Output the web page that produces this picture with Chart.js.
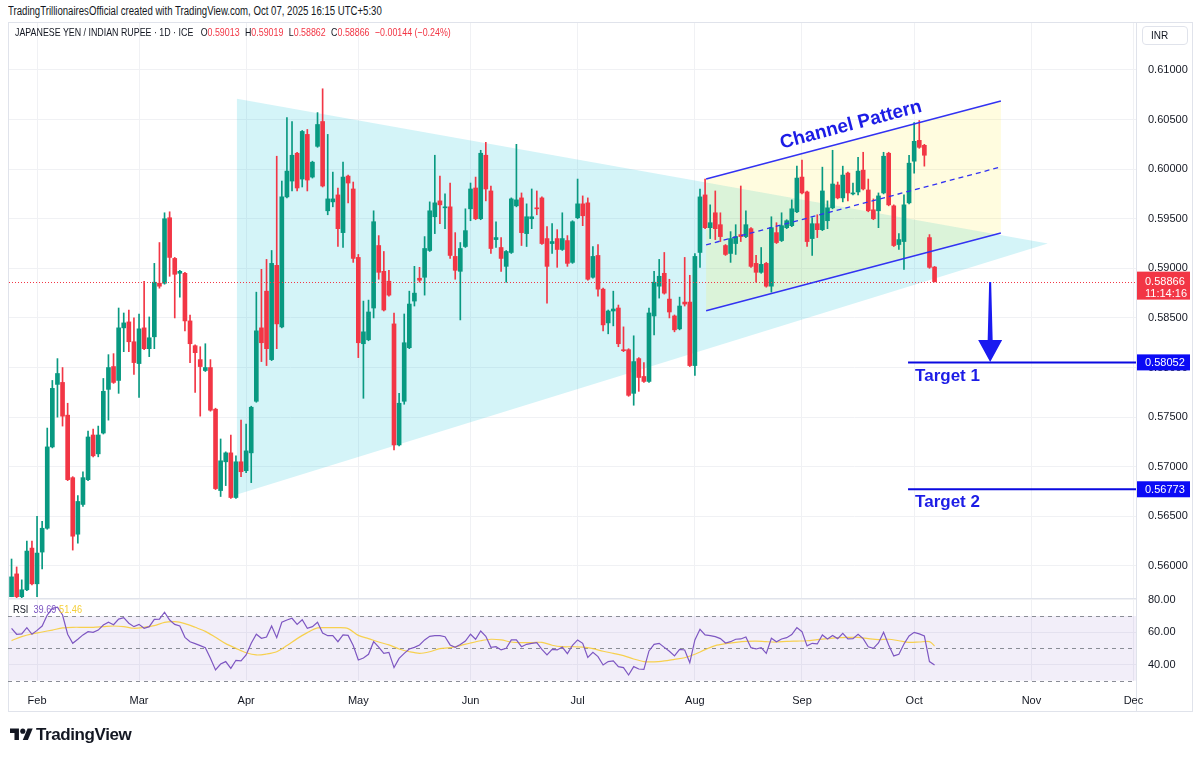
<!DOCTYPE html>
<html>
<head>
<meta charset="utf-8">
<script src="https://cdn.jsdelivr.net/npm/chart.js@4.4.0/dist/chart.umd.min.js"></script>
<style>
	html, body { margin: 0; padding: 0; background: #fff; }
	body { width: 1200px; height: 758px; position: relative; overflow: hidden; font-family: "Liberation Sans", Arial, sans-serif; color: #131722; }
	canvas { position: absolute; left: 0; top: 0; }
	#caption { position: absolute; left: 8px; top: 4px; font-size: 12px; transform: scaleX(0.8); transform-origin: 0 0; white-space: nowrap; }
	#frame { position: absolute; left: 8px; top: 22px; width: 1185px; height: 690px; border: 1px solid #e0e3eb; box-sizing: border-box; }
	#legend { position: absolute; left: 15px; top: 26px; font-size: 11.5px; white-space: nowrap; z-index: 3; transform: scaleX(0.77); transform-origin: 0 0; }
	#legend .v { color: #F23645; margin-right: 7px; }
	#inr { position: absolute; left: 1142px; top: 26px; width: 46px; height: 19px; border: 1px solid #e0e3eb; border-radius: 4px; box-sizing: border-box; font-size: 10px; line-height: 17px; padding-left: 8px; z-index: 3; }
	#rsiLegend { position: absolute; left: 13px; top: 603px; font-size: 11.5px; z-index: 3; white-space: nowrap; transform: scaleX(0.8); transform-origin: 0 0; }
	#logo { position: absolute; left: 10px; top: 725px; font-size: 17px; font-weight: bold; letter-spacing: -0.4px; display: flex; align-items: center; }
	#logo svg { margin-right: 3px; }
</style>
</head>
<body>
<div id="caption">TradingTrillionairesOfficial created with TradingView.com, Oct 07, 2025 16:15 UTC+5:30</div>
<div id="frame"></div>
<canvas id="priceCanvas" width="1200" height="758"></canvas>
<canvas id="rsiCanvas" width="1200" height="758"></canvas>
<div id="legend">JAPANESE YEN / INDIAN RUPEE · 1D · ICE&nbsp;&nbsp;&nbsp;O<span class="v">0.59013</span>H<span class="v">0.59019</span>L<span class="v">0.58862</span>C<span class="v">0.58866</span><span class="v">−0.00144 (−0.24%)</span></div>
<div id="inr">INR</div>
<div id="rsiLegend">RSI&nbsp; <span style="color:#7E57C2">39.69</span> <span style="color:#F5CF3A">51.46</span></div>
<div id="logo"><svg width="23" height="18" viewBox="0 0 36 28"><path d="M14 22H7V11H0V4h14v18z" fill="#131722"/><circle cx="20" cy="8" r="4" fill="#131722"/><path d="M28 22h-8l7.5-18h8L28 22z" fill="#131722"/></svg>TradingView</div>

<script>
// daily candles, Jan 27 -> Oct 07 2025 : [open, high, low, close]
const ohlc = [
	[0.5569,0.5607,0.5569,0.5589],[0.5592,0.5599,0.5568,0.5569],[0.5569,0.5586,0.5568,0.5576],[0.5576,0.5625,0.5575,0.5615],[0.5618,0.5625,0.5581,0.5582],
	[0.5582,0.5650,0.5569,0.5613],[0.5614,0.5645,0.5597,0.5638],[0.5638,0.5739,0.5637,0.5720],[0.5720,0.5787,0.5719,0.5779],[0.5783,0.5809,0.5750,0.5794],
	[0.5785,0.5800,0.5741,0.5751],[0.5752,0.5764,0.5686,0.5687],[0.5689,0.5690,0.5616,0.5630],[0.5632,0.5671,0.5623,0.5665],[0.5662,0.5695,0.5660,0.5689],
	[0.5687,0.5736,0.5686,0.5730],[0.5732,0.5738,0.5710,0.5711],[0.5713,0.5741,0.5710,0.5732],[0.5734,0.5789,0.5733,0.5776],[0.5778,0.5813,0.5747,0.5800],
	[0.5801,0.5814,0.5784,0.5785],[0.5787,0.5860,0.5774,0.5840],[0.5840,0.5855,0.5816,0.5845],[0.5846,0.5858,0.5816,0.5826],[0.5826,0.5850,0.5793,0.5805],
	[0.5804,0.5854,0.5770,0.5839],[0.5840,0.5887,0.5818,0.5819],[0.5819,0.5851,0.5811,0.5830],[0.5831,0.5905,0.5819,0.5886],[0.5885,0.5926,0.5880,0.5882],
	[0.5885,0.5956,0.5884,0.5950],[0.5951,0.5957,0.5892,0.5911],[0.5910,0.5911,0.5850,0.5894],[0.5895,0.5898,0.5871,0.5897],[0.5895,0.5896,0.5837,0.5847],
	[0.5847,0.5853,0.5805,0.5824],[0.5822,0.5823,0.5775,0.5815],[0.5808,0.5821,0.5751,0.5801],[0.5797,0.5824,0.5796,0.5800],[0.5800,0.5808,0.5756,0.5757],
	[0.5758,0.5759,0.5677,0.5678],[0.5676,0.5728,0.5670,0.5706],[0.5705,0.5715,0.5681,0.5714],[0.5714,0.5732,0.5668,0.5669],[0.5669,0.5711,0.5668,0.5705],
	[0.5705,0.5747,0.5690,0.5695],[0.5696,0.5743,0.5694,0.5716],[0.5714,0.5761,0.5684,0.5760],[0.5766,0.5876,0.5765,0.5837],[0.5840,0.5899,0.5806,0.5825],
	[0.5877,0.5909,0.5802,0.5819],[0.5808,0.5918,0.5807,0.5905],[0.5903,0.6013,0.5819,0.5844],[0.5841,0.5988,0.5840,0.5972],[0.5972,0.6052,0.5971,0.5998],
	[0.5988,0.6048,0.5978,0.6014],[0.6016,0.6017,0.5978,0.5981],[0.5990,0.6039,0.5982,0.6038],[0.6035,0.6040,0.5978,0.5989],[0.5992,0.6008,0.5991,0.6007],
	[0.6023,0.6057,0.6022,0.6045],[0.6048,0.6081,0.5982,0.5983],[0.5958,0.6035,0.5954,0.5970],[0.5967,0.5997,0.5962,0.5970],[0.5974,0.5981,0.5922,0.5940],
	[0.5936,0.6007,0.5921,0.5992],[0.5993,0.5994,0.5966,0.5986],[0.5980,0.5987,0.5906,0.5910],[0.5911,0.5914,0.5810,0.5825],[0.5824,0.5867,0.5769,0.5836],
	[0.5828,0.5868,0.5827,0.5856],[0.5860,0.5958,0.5850,0.5947],[0.5923,0.5933,0.5889,0.5896],[0.5897,0.5917,0.5857,0.5858],[0.5887,0.5898,0.5872,0.5873],
	[0.5844,0.5855,0.5717,0.5722],[0.5722,0.5774,0.5721,0.5764],[0.5766,0.5854,0.5763,0.5825],[0.5820,0.5877,0.5819,0.5864],[0.5867,0.5902,0.5862,0.5875],
	[0.5890,0.5901,0.5886,0.5888],[0.5891,0.5932,0.5873,0.5920],[0.5918,0.5967,0.5917,0.5958],[0.5952,0.6014,0.5935,0.5966],[0.5968,0.5993,0.5945,0.5964],
	[0.5961,0.5975,0.5940,0.5962],[0.5962,0.5986,0.5910,0.5913],[0.5912,0.5936,0.5889,0.5898],[0.5897,0.5926,0.5848,0.5920],[0.5922,0.5960,0.5921,0.5938],
	[0.5960,0.5986,0.5948,0.5980],[0.5981,0.5992,0.5949,0.5950],[0.5950,0.6019,0.5949,0.6016],[0.6014,0.6027,0.5968,0.5980],[0.5978,0.5983,0.5915,0.5920],
	[0.5929,0.5947,0.5921,0.5931],[0.5921,0.5931,0.5897,0.5910],[0.5902,0.5918,0.5886,0.5917],[0.5916,0.5971,0.5915,0.5970],[0.5963,0.6025,0.5962,0.5969],
	[0.5971,0.5976,0.5923,0.5936],[0.5935,0.5965,0.5922,0.5952],[0.5950,0.5980,0.5940,0.5952],[0.5961,0.5978,0.5954,0.5960],[0.5971,0.5972,0.5924,0.5925],
	[0.5930,0.5942,0.5865,0.5902],[0.5925,0.5945,0.5915,0.5927],[0.5930,0.5939,0.5901,0.5919],[0.5919,0.5956,0.5918,0.5930],[0.5928,0.5933,0.5902,0.5905],
	[0.5906,0.5948,0.5905,0.5947],[0.5951,0.5990,0.5950,0.5965],[0.5965,0.5973,0.5943,0.5953],[0.5966,0.5971,0.5888,0.5889],[0.5891,0.5922,0.5890,0.5912],
	[0.5913,0.5924,0.5872,0.5879],[0.5879,0.5880,0.5837,0.5843],[0.5845,0.5858,0.5834,0.5857],[0.5857,0.5877,0.5842,0.5859],[0.5860,0.5863,0.5821,0.5824],
	[0.5818,0.5841,0.5816,0.5817],[0.5818,0.5819,0.5771,0.5772],[0.5774,0.5832,0.5762,0.5806],[0.5809,0.5810,0.5776,0.5790],[0.5791,0.5805,0.5785,0.5786],
	[0.5786,0.5860,0.5785,0.5855],[0.5852,0.5897,0.5833,0.5886],[0.5882,0.5909,0.5870,0.5892],[0.5895,0.5916,0.5874,0.5875],[0.5869,0.5889,0.5850,0.5856],
	[0.5852,0.5853,0.5836,0.5838],[0.5839,0.5871,0.5838,0.5862],[0.5866,0.5911,0.5862,0.5864],[0.5866,0.5893,0.5801,0.5802],[0.5802,0.5915,0.5792,0.5912],
	[0.5916,0.5980,0.5901,0.5972],[0.5974,0.5990,0.5940,0.5941],[0.5941,0.5964,0.5930,0.5946],[0.5956,0.5978,0.5929,0.5940],[0.5944,0.5956,0.5927,0.5932],
	[0.5923,0.5924,0.5913,0.5914],[0.5915,0.5937,0.5906,0.5930],[0.5925,0.5944,0.5914,0.5932],[0.5934,0.5983,0.5927,0.5932],[0.5932,0.5958,0.5931,0.5944],
	[0.5940,0.5941,0.5901,0.5902],[0.5905,0.5913,0.5886,0.5896],[0.5896,0.5921,0.5895,0.5904],[0.5905,0.5906,0.5881,0.5882],[0.5882,0.5952,0.5876,0.5941],
	[0.5936,0.5946,0.5925,0.5926],[0.5928,0.5956,0.5927,0.5943],[0.5941,0.5949,0.5940,0.5948],[0.5943,0.5969,0.5942,0.5960],[0.5957,0.6003,0.5956,0.5991],
	[0.5992,0.6009,0.5975,0.5976],[0.5977,0.5978,0.5922,0.5927],[0.5930,0.5951,0.5913,0.5945],[0.5945,0.5954,0.5931,0.5939],[0.5939,0.6002,0.5938,0.5978],
	[0.5948,0.5968,0.5940,0.5961],[0.5961,0.6019,0.5960,0.5985],[0.5984,0.5987,0.5970,0.5971],[0.5971,0.6003,0.5967,0.5994],[0.5996,0.5997,0.5968,0.5976],
	[0.5975,0.5986,0.5974,0.5976],[0.5977,0.6012,0.5974,0.5998],[0.5999,0.6017,0.5979,0.5980],[0.5979,0.5990,0.5957,0.5958],[0.5959,0.5970,0.5949,0.5950],
	[0.5958,0.5976,0.5941,0.5973],[0.5976,0.6017,0.5975,0.6013],[0.6016,0.6017,0.5963,0.5964],[0.5963,0.5964,0.5922,0.5923],[0.5924,0.5935,0.5919,0.5929],
	[0.5927,0.5974,0.5899,0.5964],[0.5966,0.6014,0.5965,0.6006],[0.6008,0.6047,0.5996,0.6028],[0.6029,0.6049,0.6021,0.6022],[0.6024,0.6025,0.6003,0.6014],
	[0.5931,0.5934,0.5900,0.5901],[0.59013,0.59019,0.58862,0.58866]
];

// RSI(14), one value per candle
const rsiValues = [
	62.4,58.7,58.9,62.8,58.7,61.1,63.8,70.6,74.7,75.4,70.6,58.7,53.1,55.6,58.3,60.3,59.9,61.3,64.4,66.1,
	64.6,68.1,69.0,65.5,63.4,64.8,62.4,63.4,67.9,68.1,72.3,67.5,64.8,63.8,56.8,54.1,52.9,51.7,50.4,43.8,
	36.6,40.3,41.8,37.6,42.6,42.2,45.9,53.1,58.7,56.2,57.0,63.8,56.6,66.1,67.5,68.6,64.8,67.7,62.4,63.4,
	66.1,59.5,57.8,57.8,54.1,58.3,58.0,51.7,42.8,44.0,46.3,54.1,50.8,46.9,47.5,38.1,43.8,46.9,49.6,50.6,
	52.1,55.2,57.4,57.8,57.8,57.2,52.1,50.6,52.3,54.5,58.7,55.6,60.7,57.4,50.6,51.0,49.0,50.0,55.2,55.2,
	51.0,52.5,53.1,53.5,49.4,45.9,49.4,49.0,50.8,46.7,51.9,55.2,53.1,44.4,47.5,44.9,39.7,41.8,42.2,38.7,
	38.1,33.5,38.7,37.2,37.0,48.4,52.5,53.1,50.6,48.2,45.3,49.4,49.0,41.1,55.2,61.8,58.3,57.8,57.2,56.0,
	53.3,54.1,55.6,55.8,57.0,50.4,49.6,50.4,46.9,56.2,54.1,55.8,56.6,58.5,62.8,60.3,51.5,53.1,52.7,58.3,
	55.8,58.0,56.0,59.3,55.8,56.0,58.7,56.0,51.0,50.0,53.3,59.9,52.1,45.3,46.3,52.7,57.6,59.9,58.9,57.6,
	41.8,39.69
];

// RSI-based moving average, read at [candle index, value]
const rsiMaPoints = [
	[0,54.8],[2,57.2],[4,58.9],[6,60.1],[8,61.3],[10,62.6],[12,63.0],[14,63.0],[16,63.0],[18,63.4],
	[20,63.8],[22,63.4],[24,62.4],[26,63.0],[28,64.0],[30,66.1],[32,66.5],[34,65.3],[36,63.0],[38,60.5],
	[40,56.8],[42,52.9],[44,50.0],[46,47.3],[48,45.9],[50,46.5],[52,47.9],[54,51.7],[56,56.0],[58,59.7],
	[60,62.6],[62,62.8],[64,62.8],[66,62.2],[68,58.0],[70,56.0],[72,53.9],[74,52.1],[76,49.6],[78,47.9],
	[80,46.9],[82,47.9],[84,49.8],[86,50.4],[88,51.7],[90,53.3],[92,54.7],[94,55.6],[96,55.2],[98,53.9],
	[100,53.5],[102,53.5],[104,53.7],[106,51.9],[108,51.0],[110,51.0],[112,50.8],[114,49.8],[116,48.2],[118,46.9],
	[120,45.5],[122,43.4],[124,41.8],[126,41.6],[128,42.2],[130,43.2],[132,44.2],[134,46.3],[136,49.2],[138,51.7],
	[140,52.9],[142,53.7],[144,54.3],[146,54.5],[148,54.1],[150,53.9],[152,54.3],[154,54.5],[156,54.7],[158,55.4],
	[160,56.0],[162,56.6],[164,56.8],[166,56.8],[168,56.0],[170,55.4],[172,55.6],[174,54.7],[176,53.7],[178,53.9],
	[180,54.1],[181,51.46]
];

const priceTicks = [0.560, 0.565, 0.570, 0.575, 0.580, 0.585, 0.590, 0.595, 0.600, 0.605, 0.610];
const rsiTicks = [40, 60, 80];
const monthNames = ['Jan','Feb','Mar','Apr','May','Jun','Jul','Aug','Sep','Oct','Nov','Dec'];
const countdown = '11:14:16';

// weekday categories Jan 27 -> Dec 1 2025 (axis runs past the last candle)
const dates = [];
(function() {
	const d = new Date(Date.UTC(2025, 0, 27));
	while(dates.length < 221) {
		const wd = d.getUTCDay();
		if(wd != 0 && wd != 6) dates.push(d.toISOString().slice(0, 10));
		d.setUTCDate(d.getUTCDate() + 1);
	}
})();
const monthStarts = dates.map((s, i) => i > 0 && s.slice(5, 7) != dates[i-1].slice(5, 7) ? i : -1).filter(i => i >= 0);

// drawings on the chart, in (candle index, price)
const triangle = [[44.2, 0.6071], [44.2, 0.5672], [203.2, 0.5925]];
const channel = {
	upper: [[136.2, 0.59901], [194.0, 0.60687]],
	lower: [[136.2, 0.58573], [194.0, 0.59356]],
	mid: [[136.2, 0.59237], [194.0, 0.60022]]
};
const channelText = { i: 164.6, price: 0.60445, text: 'Channel Pattern' };
const arrow = { i: 191.9, from: 0.58862, head: 0.58278, to: 0.58056 };
const targets = [
	{ price: 0.58052, label: 'Target 1' },
	{ price: 0.56773, label: 'Target 2' }
];
const targetStart = 175.8;

const UP = '#089981', DOWN = '#F23645';
const BLUE = '#1c1ce6';
const gridColor = '#f0f1f4';
const candleColors = ohlc.map(r => r[3] >= r[0] ? UP : DOWN);

Chart.defaults.font.family = '"Liberation Sans", Arial, sans-serif';
Chart.defaults.font.size = 11;
Chart.defaults.color = '#131722';

//helper functions//
function monthTicks(scale) {
	scale.ticks = monthStarts.map(i => ({ value: i }));
}

function toPx(chart, i, v) {
	return [chart.scales.x.getPixelForValue(i), chart.scales.y.getPixelForValue(v)];
}

function fillPoly(chart, pts, color) {
	const ctx = chart.ctx;
	ctx.beginPath();
	pts.forEach((p, k) => {
		const [x, y] = toPx(chart, p[0], p[1]);
		if(k == 0) ctx.moveTo(x, y); else ctx.lineTo(x, y);
	});
	ctx.closePath();
	ctx.fillStyle = color;
	ctx.fill();
}

function strokeSeg(chart, seg, color, width, dash) {
	const ctx = chart.ctx;
	const [x1, y1] = toPx(chart, seg[0][0], seg[0][1]);
	const [x2, y2] = toPx(chart, seg[1][0], seg[1][1]);
	ctx.save();
	ctx.strokeStyle = color;
	ctx.lineWidth = width;
	ctx.setLineDash(dash || []);
	ctx.beginPath();
	ctx.moveTo(x1, y1);
	ctx.lineTo(x2, y2);
	ctx.stroke();
	ctx.restore();
}

const drawings = {
	id: 'drawings',
	beforeDatasetsDraw(chart) {
		const {ctx, chartArea: a} = chart;
		ctx.save();
		ctx.beginPath();
		ctx.rect(a.left, a.top, a.width, a.height);
		ctx.clip();
		fillPoly(chart, triangle, 'rgba(38,198,218,0.2)');
		fillPoly(chart, [channel.upper[0], channel.upper[1], channel.lower[1], channel.lower[0]], 'rgba(255,235,59,0.16)');
		ctx.restore();
	},
	afterDatasetsDraw(chart) {
		const {ctx, chartArea: a, scales: {y}} = chart;
		// last price line
		const last = ohlc[ohlc.length - 1][3];
		const ly = Math.round(y.getPixelForValue(last)) + 0.5;
		ctx.save();
		ctx.strokeStyle = DOWN;
		ctx.lineWidth = 1;
		ctx.setLineDash([1, 2]);
		ctx.beginPath();
		ctx.moveTo(a.left, ly);
		ctx.lineTo(a.right, ly);
		ctx.stroke();
		ctx.restore();

		// channel
		strokeSeg(chart, channel.upper, '#3232f2', 1.4);
		strokeSeg(chart, channel.lower, '#3232f2', 1.4);
		strokeSeg(chart, channel.mid, '#3232f2', 1.3, [5, 4]);
		const [ux1, uy1] = toPx(chart, channel.upper[0][0], channel.upper[0][1]);
		const [ux2, uy2] = toPx(chart, channel.upper[1][0], channel.upper[1][1]);
		const [tx, ty] = toPx(chart, channelText.i, channelText.price);
		ctx.save();
		ctx.translate(tx, ty);
		ctx.rotate(Math.atan2(uy2 - uy1, ux2 - ux1));
		ctx.fillStyle = BLUE;
		ctx.font = 'bold 19px "Liberation Sans", Arial, sans-serif';
		ctx.textAlign = 'center';
		ctx.textBaseline = 'middle';
		ctx.fillText(channelText.text, 0, 0);
		ctx.restore();

		// arrow
		const [ax, ay1] = toPx(chart, arrow.i, arrow.from);
		const ay2 = y.getPixelForValue(arrow.head);
		const ay3 = y.getPixelForValue(arrow.to);
		ctx.save();
		ctx.fillStyle = '#1a1af0';
		ctx.beginPath();
		ctx.moveTo(ax - 1, ay1);
		ctx.lineTo(ax + 1, ay1);
		ctx.lineTo(ax + 2.5, ay2);
		ctx.lineTo(ax + 12, ay2);
		ctx.lineTo(ax, ay3);
		ctx.lineTo(ax - 12, ay2);
		ctx.lineTo(ax - 2.5, ay2);
		ctx.closePath();
		ctx.fill();
		ctx.restore();

		// targets
		targets.forEach(t => {
			const [sx, ty2] = toPx(chart, targetStart, t.price);
			ctx.save();
			ctx.strokeStyle = '#0a0ae0';
			ctx.lineWidth = 2;
			ctx.beginPath();
			ctx.moveTo(sx, ty2);
			ctx.lineTo(a.right, ty2);
			ctx.stroke();
			ctx.fillStyle = BLUE;
			ctx.font = 'bold 17px "Liberation Sans", Arial, sans-serif';
			ctx.textBaseline = 'top';
			ctx.textAlign = 'left';
			ctx.fillText(t.label, sx + 7, ty2 + 5);
			ctx.restore();
		});
	},
	afterDraw(chart) {
		const {ctx, chartArea: a, scales: {y}} = chart;
		ctx.save();
		// pane separators
		ctx.strokeStyle = '#e0e3eb';
		ctx.lineWidth = 1;
		ctx.beginPath();
		ctx.moveTo(Math.round(a.right) + 0.5, 22);
		ctx.lineTo(Math.round(a.right) + 0.5, 711);
		ctx.moveTo(8, Math.round(a.bottom) + 0.5);
		ctx.lineTo(Math.round(a.right), Math.round(a.bottom) + 0.5);
		ctx.stroke();
		// price labels on the axis
		const left = Math.round(a.right) + 1;
		const last = ohlc[ohlc.length - 1][3];
		const ly = y.getPixelForValue(last);
		ctx.fillStyle = DOWN;
		ctx.fillRect(left, ly - 10, 53, 28);
		ctx.fillStyle = '#fff';
		ctx.font = '11px "Liberation Sans", Arial, sans-serif';
		ctx.textBaseline = 'middle';
		ctx.fillText(last.toFixed(5), left + 8, ly);
		ctx.fillText(countdown, left + 8, ly + 12);
		targets.forEach(t => {
			const ty2 = y.getPixelForValue(t.price);
			ctx.fillStyle = '#0b0bf5';
			ctx.fillRect(left, ty2 - 8, 53, 16);
			ctx.fillStyle = '#fff';
			ctx.fillText(t.price.toFixed(5), left + 8, ty2 + 0.5);
		});
		ctx.restore();
	}
};

const rsiBands = {
	id: 'rsiBands',
	beforeDatasetsDraw(chart) {
		const {ctx, chartArea: a, scales: {y}} = chart;
		const y70 = y.getPixelForValue(70), y50 = y.getPixelForValue(50), y30 = y.getPixelForValue(30);
		ctx.save();
		ctx.fillStyle = 'rgba(126,87,194,0.1)';
		ctx.fillRect(a.left, y70, a.width, y30 - y70);
		ctx.strokeStyle = '#8a8d96';
		ctx.lineWidth = 1;
		ctx.setLineDash([4, 4]);
		[y70, y50, y30].forEach(py => {
			ctx.beginPath();
			ctx.moveTo(a.left - 1, Math.round(py) + 0.5);
			ctx.lineTo(a.right, Math.round(py) + 0.5);
			ctx.stroke();
		});
		ctx.restore();
	}
};

// price pane
new Chart(document.getElementById('priceCanvas'), {
	type: 'bar',
	data: {
		labels: dates,
		datasets: [
			{
				label: 'body',
				data: ohlc.map(r => [r[0], r[3]]),
				backgroundColor: candleColors,
				barThickness: 4,
				minBarLength: 1,
				grouped: false,
				order: 0
			},
			{
				label: 'wick',
				data: ohlc.map(r => [r[2], r[1]]),
				backgroundColor: candleColors,
				barThickness: 1,
				grouped: false,
				order: 1
			}
		]
	},
	options: {
		responsive: false,
		animation: false,
		layout: { padding: { left: 9, top: 23, right: 8, bottom: 160 } },
		plugins: { legend: { display: false }, tooltip: { enabled: false } },
		scales: {
			x: {
				offset: true,
				grid: { offset: false, color: gridColor, drawTicks: false },
				border: { display: false },
				ticks: { display: false },
				afterBuildTicks: monthTicks,
				afterFit: s => { s.height = 0; }
			},
			y: {
				position: 'right',
				min: 0.55677,
				max: 0.61473,
				beginAtZero: false,
				grid: { color: gridColor, drawTicks: false },
				border: { display: false },
				ticks: { padding: 12, callback: v => v.toFixed(5) },
				afterBuildTicks: s => { s.ticks = priceTicks.map(v => ({ value: v })); },
				afterFit: s => { s.width = 56; }
			}
		}
	},
	plugins: [drawings]
});

// RSI pane + time axis
const maLine = dates.map(() => null);
rsiMaPoints.forEach(p => { maLine[p[0]] = p[1]; });

new Chart(document.getElementById('rsiCanvas'), {
	type: 'line',
	data: {
		labels: dates,
		datasets: [
			{ label: 'RSI', data: rsiValues, borderColor: '#7E57C2', borderWidth: 1.2, pointRadius: 0, tension: 0, order: 0 },
			{ label: 'MA', data: maLine, borderColor: 'rgba(247,205,60,0.9)', borderWidth: 1.2, pointRadius: 0, tension: 0.3, spanGaps: true, order: 1 }
		]
	},
	options: {
		responsive: false,
		animation: false,
		layout: { padding: { left: 9, top: 599, right: 8, bottom: 47 } },
		plugins: { legend: { display: false }, tooltip: { enabled: false } },
		scales: {
			x: {
				offset: true,
				grid: { offset: false, color: gridColor, drawTicks: false },
				border: { display: false },
				ticks: { padding: 13, autoSkip: false, maxRotation: 0, callback: v => monthNames[+dates[v].slice(5, 7) - 1] },
				afterBuildTicks: monthTicks,
				afterFit: s => { s.height = 30; }
			},
			y: {
				position: 'right',
				min: 29.8,
				max: 80.5,
				grid: { color: gridColor, drawTicks: false },
				border: { display: false },
				ticks: { padding: 12, callback: v => v.toFixed(2) },
				afterBuildTicks: s => { s.ticks = rsiTicks.map(v => ({ value: v })); },
				afterFit: s => { s.width = 56; }
			}
		}
	},
	plugins: [rsiBands]
});
</script>
</body>
</html>
